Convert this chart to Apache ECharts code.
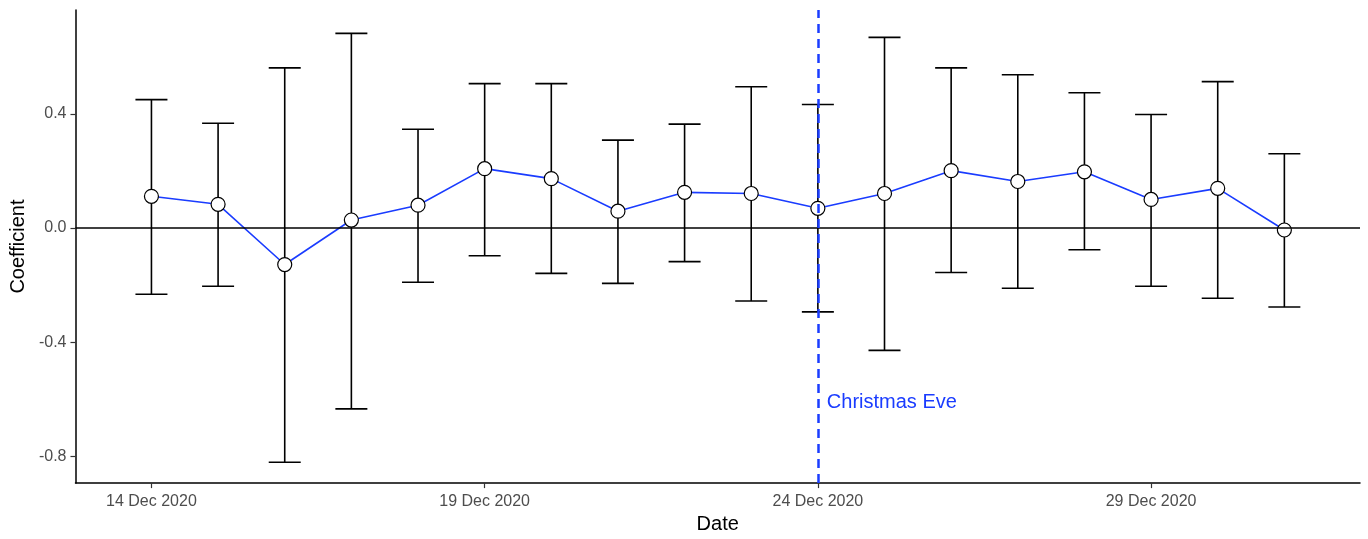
<!DOCTYPE html>
<html>
<head>
<meta charset="utf-8">
<script src="https://cdn.jsdelivr.net/npm/echarts@6/dist/echarts.min.js"></script>
<style>html,body{margin:0;padding:0;background:#fff;overflow:hidden;width:1368px;height:539px}#c{position:absolute;left:0;top:0;width:1368px;height:539px}</style>
</head>
<body>
<div id="c"></div>
<script>
const days = [14,15,16,17,18,19,20,21,22,23,24,25,26,27,28,29,30,31];
const estimates = [0.111,0.083,-0.128,0.028,0.080,0.208,0.173,0.059,0.125,0.121,0.069,0.121,0.201,0.163,0.197,0.100,0.139,-0.007];
const lowerCI = [-0.232,-0.204,-0.821,-0.634,-0.190,-0.097,-0.159,-0.194,-0.118,-0.256,-0.294,-0.429,-0.156,-0.211,-0.076,-0.204,-0.246,-0.277];
const upperCI = [0.450,0.367,0.561,0.682,0.346,0.506,0.506,0.308,0.364,0.495,0.433,0.668,0.561,0.537,0.474,0.398,0.513,0.260];
const xTickDays = [14,19,24,29];
const yTickValues = [-0.8,-0.4,0.0,0.4];
const eventDay = 24;
const eventLabel = 'Christmas Eve';
const eventLabelY = -0.612;

const chart = echarts.init(document.getElementById('c'), null, {renderer:'canvas', width:1368, height:539});
const font = 'Liberation Sans, Arial, Helvetica, sans-serif';
const blue = '#1a3cff';

const errData = days.map((d,i)=>[d, lowerCI[i], upperCI[i]]);

chart.setOption({
  animation:false,
  backgroundColor:'#fff',
  grid:{left:75, right:8, top:10, bottom:51, containLabel:false},
  xAxis:{
    type:'value', min:12.86, max:32.135,
    name:'Date', nameLocation:'middle', nameGap:30,
    nameTextStyle:{color:'#000', fontSize:20, fontFamily:font},
    axisLine:{show:true, onZero:false, lineStyle:{color:'#000', width:1.5}},
    axisTick:{show:true, length:5, customValues:xTickDays, lineStyle:{color:'#333', width:1.2}},
    axisLabel:{show:true, customValues:xTickDays, margin:10, color:'#4d4d4d', fontSize:16, fontFamily:font,
      formatter:v=>Math.round(v)+' Dec 2020'},
    splitLine:{show:false}
  },
  yAxis:{
    type:'value', min:-0.894, max:0.764,
    name:'Coefficient', nameLocation:'middle', nameGap:43,
    nameTextStyle:{color:'#000', fontSize:20, fontFamily:font},
    axisLine:{show:true, onZero:false, lineStyle:{color:'#000', width:1.5}},
    axisTick:{show:true, length:5, customValues:yTickValues, lineStyle:{color:'#333', width:1.2}},
    axisLabel:{show:true, customValues:yTickValues, margin:9, color:'#4d4d4d', fontSize:16, fontFamily:font,
      formatter:v=>v.toFixed(1)},
    splitLine:{show:false}
  },
  series:[
    {
      type:'line', data:[], z:1,
      markLine:{silent:true, symbol:'none', animation:false,
        label:{show:false},
        data:[{yAxis:0, lineStyle:{color:'#000', width:1.5, type:'solid'}}]
      }
    },
    {
      type:'custom', z:2,
      renderItem:function(params, api){
        const x = api.value(0);
        const lo = api.coord([x, api.value(1)]);
        const hi = api.coord([x, api.value(2)]);
        const hw = 16;
        const st = {stroke:'#000', lineWidth:1.6};
        return {type:'group', children:[
          {type:'line', shape:{x1:lo[0], y1:lo[1], x2:hi[0], y2:hi[1]}, style:st},
          {type:'line', shape:{x1:lo[0]-hw, y1:lo[1], x2:lo[0]+hw, y2:lo[1]}, style:st},
          {type:'line', shape:{x1:hi[0]-hw, y1:hi[1], x2:hi[0]+hw, y2:hi[1]}, style:st}
        ]};
      },
      encode:{x:0, y:[1,2]},
      data:errData
    },
    {
      type:'line', data:[], z:3,
      markLine:{silent:true, symbol:'none', animation:false,
        label:{show:false},
        data:[{xAxis:eventDay, lineStyle:{color:blue, width:2.5, type:[9,6]}}]
      }
    },
    {
      type:'line', z:4,
      data:days.map((d,i)=>[d, estimates[i]]),
      lineStyle:{color:blue, width:1.6},
      symbol:'circle', symbolSize:14,
      itemStyle:{color:'#fff', borderColor:'#000', borderWidth:1.2},
      showSymbol:true
    },
    {
      type:'scatter', z:5, symbolSize:0,
      itemStyle:{opacity:1},
      data:[[eventDay, eventLabelY]],
      label:{show:true, position:'right', distance:9, formatter:eventLabel, color:blue, fontSize:20, fontFamily:font}
    }
  ]
});
</script>
</body>
</html>
